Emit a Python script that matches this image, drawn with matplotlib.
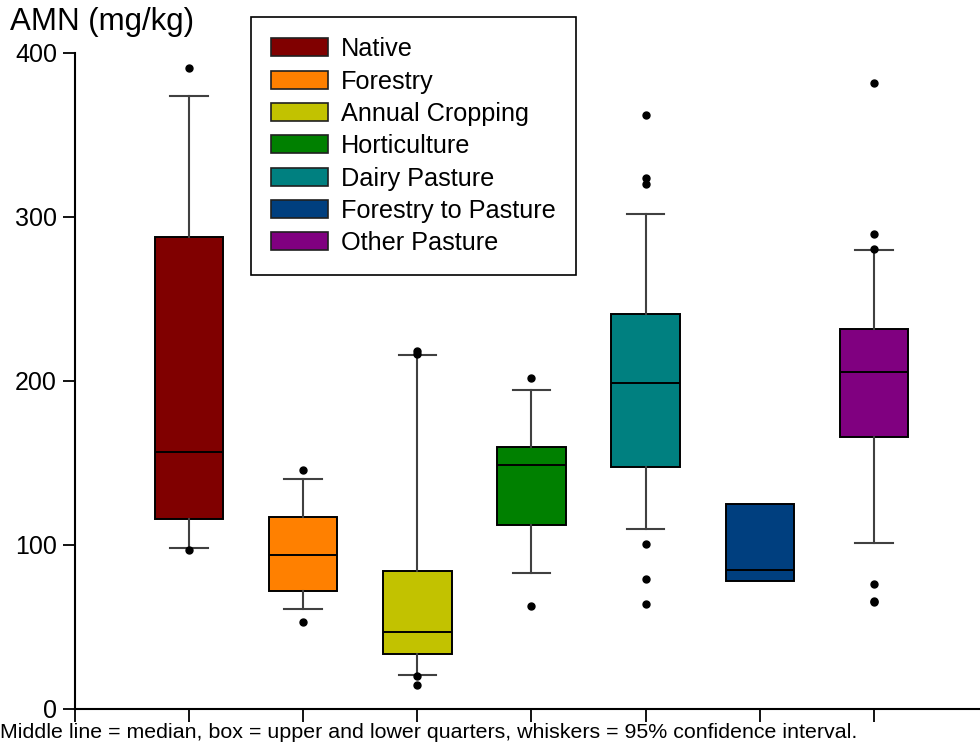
import matplotlib
matplotlib.use('Agg')
import matplotlib.pyplot as plt
from matplotlib.patches import Patch

plt.rcParams['font.family'] = ['Liberation Sans', 'DejaVu Sans']

groups = ['Native', 'Forestry', 'Annual Cropping', 'Horticulture',
          'Dairy Pasture', 'Forestry to Pasture', 'Other Pasture']
colors = ['#800000', '#ff8000', '#c2c200', '#008000',
          '#008080', '#003f7f', '#800080']

q1 = [116, 72, 33.5, 112, 147.5, 78, 166]
med = [157, 94, 47, 149, 199, 85, 205.5]
q3 = [288, 117, 84, 160, 241, 125, 231.5]
whislo = [98, 61, 21, 83, 109.5, 78, 101]
whishi = [374, 140, 216, 194.5, 302, 125, 280]
fliers = [
    [391, 97],
    [146, 53],
    [218, 216.5, 20, 14.5],
    [202, 63],
    [362.5, 324, 320, 100.5, 79, 64],
    [],
    [382, 289.5, 280.5, 76, 66, 65],
]

stats = []
for i, g in enumerate(groups):
    stats.append(dict(label=g, q1=q1[i], med=med[i], q3=q3[i],
                      whislo=whislo[i], whishi=whishi[i], fliers=fliers[i]))

fig = plt.figure(figsize=(9.8, 7.44), dpi=100)
ax = fig.add_axes([75 / 980, 1 - 709 / 744, 1 - 75 / 980, 656 / 744])

positions = list(range(1, len(groups) + 1))
bp = ax.bxp(stats, positions=positions, widths=0.6, capwidths=0.33,
            patch_artist=True, manage_ticks=False,
            boxprops=dict(edgecolor='black', linewidth=1.4),
            medianprops=dict(color='black', linewidth=1.4),
            whiskerprops=dict(color='#404040', linewidth=1.5),
            capprops=dict(color='#404040', linewidth=1.5),
            flierprops=dict(marker='o', markerfacecolor='black',
                            markeredgecolor='black', markersize=5))
for patch, c in zip(bp['boxes'], colors):
    patch.set_facecolor(c)

# no whiskers for groups where the whiskers collapse onto the box
for i in range(len(groups)):
    if whislo[i] == q1[i] and whishi[i] == q3[i]:
        for art in bp['caps'][2 * i:2 * i + 2] + bp['whiskers'][2 * i:2 * i + 2]:
            art.set_visible(False)

ax.set_xlim(0, 7.93)
ax.set_ylim(0, 400)
ax.set_yticks([0, 100, 200, 300, 400])
ax.set_xticks(range(0, 8))
ax.set_xticklabels([])
ax.spines['top'].set_visible(False)
ax.spines['right'].set_visible(False)
ax.spines['left'].set_linewidth(1.5)
ax.spines['bottom'].set_linewidth(1.5)
ax.tick_params(axis='both', direction='out', length=9, width=1.3,
               labelsize=18, pad=4)

fig.text(10 / 980, 1 - 22 / 744, 'AMN (mg/kg)', fontsize=22.5,
         ha='left', va='center')
fig.text(0.0, 1 - 733 / 744,
         'Middle line = median, box = upper and lower quarters, '
         'whiskers = 95% confidence interval.',
         fontsize=15.4, ha='left', va='center')

handles = [Patch(facecolor=c, edgecolor='#202020', linewidth=1.2)
           for c in colors]
leg = ax.legend(handles, groups, loc='upper left',
                bbox_to_anchor=(251 / 980, 1 - 17 / 744),
                bbox_transform=fig.transFigure, borderaxespad=0,
                fontsize=18.2, handlelength=2.25, handleheight=0.72,
                handletextpad=0.5, labelspacing=0.33, borderpad=0.8,
                fancybox=False, framealpha=1, edgecolor='black')
leg.get_frame().set_linewidth(1.2)

fig.savefig('out.png', dpi=100)
